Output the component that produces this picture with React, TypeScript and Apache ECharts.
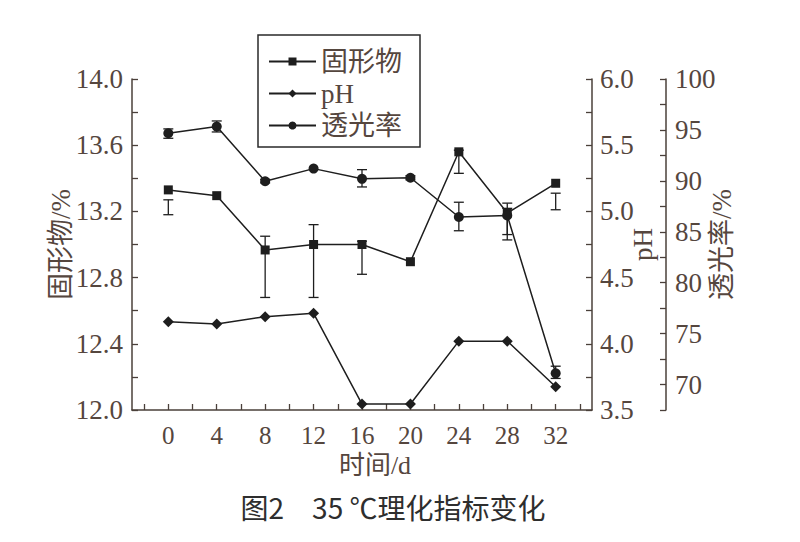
import React, { useEffect, useRef } from "react";
import * as echarts from "echarts";

const days = [0, 4, 8, 12, 16, 20, 24, 28, 32];
const solids = [13.33, 13.295, 12.967, 13.0, 13.0, 12.896, 13.56, 13.19, 13.37];
const solidsLow = [13.18, null, 12.68, 12.68, 12.82, null, 13.43, 13.06, 13.21];
const solidsHigh = [13.27, null, 13.05, 13.12, 13.02, null, 13.57, 13.25, 13.31];
const ph = [4.167, 4.15, 4.205, 4.23, 3.545, 3.545, 4.02, 4.02, 3.676];
const trans = [94.67, 95.33, 89.96, 91.2, 90.2, 90.3, 86.45, 86.6, 71.1];
const transLow = [94.18, 94.8, 89.8, null, 89.4, 90.1, 85.1, 84.2, 70.6];
const transHigh = [95.1, 95.88, 90.15, null, 91.1, 90.5, 87.9, 87.3, 71.8];
const xTicks = [-2, 0, 2, 4, 6, 8, 10, 12, 14, 16, 18, 20, 22, 24, 26, 28, 30, 32, 34];
const xLabels = [0, 4, 8, 12, 16, 20, 24, 28, 32];

const LINE = "#1e1e1e";
const AXIS = "#4a403a";
const TXT = "#55463e";
const FONT = "'Liberation Serif', 'Noto Sans CJK SC', serif";

function errData(lo: (number | null)[], hi: (number | null)[]) {
  const out: number[][] = [];
  days.forEach((d, i) => {
    const l = lo[i];
    const h = hi[i];
    if (l != null && h != null) out.push([d, l, h]);
  });
  return out;
}

function renderErr(params: any, api: any) {
  const x = api.value(0);
  const p1 = api.coord([x, api.value(1)]);
  const p2 = api.coord([x, api.value(2)]);
  const w = 5;
  const style = { stroke: LINE, lineWidth: 1.3 };
  return {
    type: "group",
    children: [
      { type: "line", shape: { x1: p1[0], y1: p1[1], x2: p2[0], y2: p2[1] }, style },
      { type: "line", shape: { x1: p1[0] - w, y1: p1[1], x2: p1[0] + w, y2: p1[1] }, style },
      { type: "line", shape: { x1: p2[0] - w, y1: p2[1], x2: p2[0] + w, y2: p2[1] }, style },
    ],
  };
}

export default function App() {
  const ref = useRef<HTMLDivElement>(null);
  useEffect(() => {
    if (!ref.current) return;
    const chart = echarts.init(ref.current, undefined, { renderer: "svg" });
    const axisLine = { show: true, onZero: false, lineStyle: { color: AXIS, width: 1.5 } };
    const tick = { show: true, inside: true, length: 6, lineStyle: { color: AXIS, width: 1.3 } };
    const minor = { show: true, splitNumber: 2, length: 6, lineStyle: { color: AXIS, width: 1.3 } };
    const label = { color: TXT, fontSize: 27, fontFamily: FONT };
    const nameStyle = { color: TXT, fontSize: 27, fontFamily: FONT };
    chart.setOption({
      animation: false,
      backgroundColor: "#ffffff",
      textStyle: { fontFamily: FONT },
      grid: { left: 132, right: 208, top: 79, bottom: 132, outerBoundsMode: "none", containLabel: false },
      legend: {
        data: ["固形物", "pH", "透光率"],
        orient: "vertical",
        left: 258,
        top: 35,
        borderColor: "#2a2a2a",
        borderWidth: 1.5,
        padding: [13, 18, 8, 10],
        itemGap: 5,
        itemWidth: 47,
        itemHeight: 10,
        textStyle: { color: TXT, fontSize: 27, fontFamily: FONT, lineHeight: 27 },
      },
      xAxis: {
        type: "value",
        min: -3,
        max: 35,
        axisLine,
        axisTick: { ...tick, customValues: xTicks },
        axisLabel: { ...label, fontSize: 25, margin: 13, customValues: xLabels },
        splitLine: { show: false },
        name: "时间/d",
        nameLocation: "middle",
        nameGap: 42,
        nameMoveOverlap: false,
        nameTextStyle: { ...nameStyle, fontSize: 26, padding: [0, 0, 0, 26] },
      },
      yAxis: [
        {
          type: "value",
          position: "left",
          min: 12,
          max: 14,
          interval: 0.4,
          axisLine,
          axisTick: tick,
          minorTick: minor,
          axisLabel: { ...label, margin: 9, formatter: (v: number) => v.toFixed(1) },
          splitLine: { show: false },
          name: "固形物/%",
          nameLocation: "middle",
          nameRotate: 90,
          nameGap: 58,
          nameMoveOverlap: false,
          nameTextStyle: nameStyle,
        },
        {
          type: "value",
          position: "right",
          min: 3.5,
          max: 6,
          interval: 0.5,
          axisLine,
          axisTick: tick,
          minorTick: minor,
          axisLabel: { ...label, margin: 8, formatter: (v: number) => v.toFixed(1) },
          splitLine: { show: false },
          name: "pH",
          nameLocation: "middle",
          nameRotate: 90,
          nameGap: 37,
          nameMoveOverlap: false,
          nameTextStyle: nameStyle,
        },
        {
          type: "value",
          position: "right",
          offset: 74,
          min: 67.5,
          max: 100,
          interval: 2.5,
          axisLine,
          axisTick: tick,
          axisLabel: { ...label, margin: 9, formatter: (v: number) => (v % 5 === 0 ? String(v) : "") },
          splitLine: { show: false },
          name: "透光率/%",
          nameLocation: "middle",
          nameRotate: 90,
          nameGap: 42,
          nameMoveOverlap: false,
          nameTextStyle: nameStyle,
        },
      ],
      series: [
        {
          name: "固形物",
          type: "line",
          yAxisIndex: 0,
          data: days.map((d, i) => [d, solids[i]]),
          symbol: "rect",
          symbolSize: 9,
          itemStyle: { color: LINE },
          lineStyle: { color: LINE, width: 1.5 },
          z: 3,
        },
        {
          name: "pH",
          type: "line",
          yAxisIndex: 1,
          data: days.map((d, i) => [d, ph[i]]),
          symbol: "diamond",
          symbolSize: 11,
          itemStyle: { color: LINE },
          lineStyle: { color: LINE, width: 1.5 },
          z: 3,
        },
        {
          name: "透光率",
          type: "line",
          yAxisIndex: 2,
          data: days.map((d, i) => [d, trans[i]]),
          symbol: "circle",
          symbolSize: 10,
          itemStyle: { color: LINE },
          lineStyle: { color: LINE, width: 1.5 },
          z: 3,
        },
        {
          type: "custom",
          yAxisIndex: 0,
          data: errData(solidsLow, solidsHigh),
          renderItem: renderErr,
          encode: { x: 0, y: [1, 2] },
          z: 2,
        },
        {
          type: "custom",
          yAxisIndex: 2,
          data: errData(transLow, transHigh),
          renderItem: renderErr,
          encode: { x: 0, y: [1, 2] },
          z: 2,
        },
      ],
      graphic: [
        {
          type: "text",
          x: 393,
          y: 507,
          style: {
            text: "图2\u300035\u00a0℃理化指标变化",
            fill: "#2e2e2e",
            fontSize: 28,
            fontFamily: "'Noto Sans CJK SC', sans-serif",
            align: "center",
            verticalAlign: "middle",
            textAlign: "center",
            textVerticalAlign: "middle",
          },
        },
      ],
    });
    return () => chart.dispose();
  }, []);
  return (
    <div
      ref={ref}
      style={{ position: "fixed", left: 0, top: 0, width: 800, height: 542, background: "#fff" }}
    />
  );
}
